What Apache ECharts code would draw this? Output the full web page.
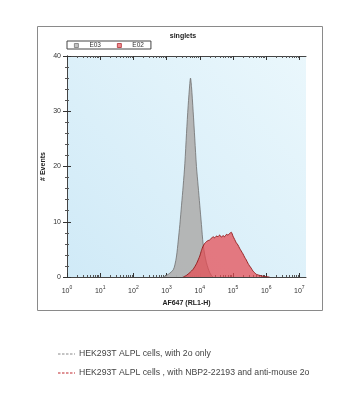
<!DOCTYPE html>
<html>
<head>
<meta charset="utf-8">
<script src="https://cdn.jsdelivr.net/npm/echarts@6/dist/echarts.min.js"></script>
<style>
  html, body { margin: 0; padding: 0; background: #ffffff; }
  #chart { width: 357px; height: 400px; }
</style>
</head>
<body>
<div id="chart"></div>
<script>
// ---- data (x = log10 of AF647 intensity, y = # events) ----
const e03Log   = [2.9, 3.0, 3.1, 3.2, 3.25, 3.3, 3.35, 3.4, 3.45, 3.5, 3.55, 3.6, 3.65, 3.7, 3.72, 3.75, 3.8, 3.85, 3.9, 3.95, 4.0, 4.05, 4.1, 4.15, 4.2, 4.25, 4.3, 4.35, 4.4];
const e03Count = [0, 0.3, 0.7, 1.3, 2.2, 3.8, 6.5, 9.5, 13, 16.5, 20.5, 26, 31, 35, 36, 34.5, 30, 25, 20, 16.5, 13, 9.5, 6, 4, 2.6, 1.6, 0.8, 0.3, 0];

const e02Log   = [3.5, 3.6, 3.7, 3.8, 3.9, 4.0, 4.05, 4.1, 4.15, 4.2, 4.25, 4.3, 4.35, 4.4, 4.45, 4.5, 4.55, 4.6, 4.65, 4.7, 4.75, 4.8, 4.85, 4.9, 4.95, 5.0, 5.05, 5.1, 5.15, 5.2, 5.25, 5.3, 5.35, 5.4, 5.45, 5.5, 5.55, 5.6, 5.65, 5.7, 5.8, 5.9, 6.0, 6.1];
const e02Count = [0, 0.3, 0.8, 1.4, 2.4, 3.8, 4.8, 5.6, 6.1, 6.4, 6.6, 6.7, 7.0, 7.3, 7.1, 7.4, 7.3, 7.6, 7.2, 7.5, 7.3, 7.7, 7.6, 7.9, 8.1, 7.4, 6.8, 6.2, 5.8, 5.2, 4.7, 4.2, 3.6, 3.1, 2.5, 2.0, 1.6, 1.1, 0.8, 0.5, 0.3, 0.15, 0.05, 0];

const xDecades = [0, 1, 2, 3, 4, 5, 6, 7];
const yTicks   = [0, 10, 20, 30, 40];
const seriesNames = ['E03', 'E02'];
const chartTitle = 'singlets';
const xTitle = 'AF647 (RL1-H)';
const yTitle = '# Events';
const noteLines = ['HEK293T ALPL cells, with 2o only', 'HEK293T ALPL cells , with NBP2-22193 and anti-mouse 2o'];

// minor log ticks (log10 of 2..9 within each decade)
const minorTicks = [];
for (let d = 0; d < 8; d++) {
  for (let k = 2; k <= 9; k++) {
    const v = d + Math.log10(k);
    if (v <= 7.2) minorTicks.push(v);
  }
}

const zip = (xs, ys) => xs.map((x, i) => [x, ys[i]]);

const chart = echarts.init(document.getElementById('chart'), null, { renderer: 'canvas' });

const FONT = 'Liberation Sans';
const axisLineStyle = { color: '#444', width: 1 };

const option = {
  animation: false,
  backgroundColor: '#ffffff',
  textStyle: { fontFamily: FONT },
  title: {
    text: chartTitle,
    left: 178, top: 28, textAlign: 'center',
    textStyle: { fontSize: 7, fontWeight: 'bold', color: '#222', fontFamily: FONT }
  },
  legend: {
    data: [
      { name: seriesNames[0], itemStyle: { color: '#c4c4c4', borderColor: '#777', borderWidth: 0.8 } },
      { name: seriesNames[1], itemStyle: { color: '#f08a8e', borderColor: '#b03035', borderWidth: 0.8 } }
    ],
    left: 67, top: 41,
    orient: 'horizontal',
    padding: [1, 7, 0, 7],
    itemGap: 16,
    itemWidth: 4, itemHeight: 4,
    icon: 'rect',
    borderColor: '#444', borderWidth: 1,
    backgroundColor: '#fff',
    textStyle: { fontSize: 6.5, color: '#333', padding: [0, 0, 0, 6], lineHeight: 7, fontFamily: FONT }
  },
  grid: {
    left: 67, right: 51, top: 56, bottom: 123,
    show: true,
    borderWidth: 0,
    backgroundColor: new echarts.graphic.LinearGradient(0, 1, 1, 0, [
      { offset: 0, color: '#d0eaf7' },
      { offset: 1, color: '#eaf7fc' }
    ])
  },
  xAxis: [
    {
      type: 'value', min: 0, max: 7.2, interval: 1, position: 'bottom',
      name: xTitle, nameLocation: 'middle', nameGap: 20,
      nameTextStyle: { fontSize: 7, fontWeight: 'bold', color: '#222', fontFamily: FONT },
      axisLine: { show: true, lineStyle: axisLineStyle },
      axisTick: { show: true, inside: true, length: 4, customValues: xDecades, lineStyle: { color: '#333' } },
      splitLine: { show: false },
      axisLabel: {
        customValues: xDecades,
        margin: 8,
        color: '#333',
        formatter: v => '{b|10}{s|' + v + '}',
        rich: {
          b: { fontSize: 7, color: '#333', fontFamily: FONT, verticalAlign: 'bottom', lineHeight: 10 },
          s: { fontSize: 5, color: '#333', fontFamily: FONT, verticalAlign: 'top', lineHeight: 10, padding: [0, 0, 4, 0] }
        }
      }
    },
    {
      type: 'value', min: 0, max: 7.2, position: 'bottom',
      axisLine: { show: false },
      axisTick: { show: true, inside: true, length: 2, customValues: minorTicks, lineStyle: { color: '#555' } },
      axisLabel: { show: false }, splitLine: { show: false }
    },
    {
      type: 'value', min: 0, max: 7.2, position: 'top',
      axisLine: { show: true, lineStyle: axisLineStyle },
      axisTick: { show: true, inside: true, length: 4, customValues: xDecades, lineStyle: { color: '#333' } },
      axisLabel: { show: false }, splitLine: { show: false }
    },
    {
      type: 'value', min: 0, max: 7.2, position: 'top',
      axisLine: { show: false },
      axisTick: { show: true, inside: true, length: 2, customValues: minorTicks, lineStyle: { color: '#555' } },
      axisLabel: { show: false }, splitLine: { show: false }
    }
  ],
  yAxis: [
    {
      type: 'value', min: 0, max: 40, interval: 10, position: 'left',
      name: yTitle, nameLocation: 'middle', nameGap: 20, nameRotate: 90, nameMoveOverlap: false,
      nameTextStyle: { fontSize: 7, fontWeight: 'bold', color: '#222', fontFamily: FONT },
      axisLine: { show: true, lineStyle: axisLineStyle },
      axisTick: { show: true, inside: true, length: 4, lineStyle: { color: '#333' } },
      minorTick: { show: true, splitNumber: 5, length: 2, lineStyle: { color: '#555' } },
      splitLine: { show: false },
      axisLabel: { fontSize: 7, color: '#333', margin: 6, customValues: yTicks, fontFamily: FONT }
    },
    {
      type: 'value', min: 0, max: 40, interval: 10, position: 'right',
      axisLine: { show: true, lineStyle: axisLineStyle },
      axisTick: { show: true, inside: true, length: 4, lineStyle: { color: '#333' } },
      minorTick: { show: true, splitNumber: 5, length: 2, lineStyle: { color: '#555' } },
      splitLine: { show: false },
      axisLabel: { show: false }
    }
  ],
  series: [
    {
      name: seriesNames[0], type: 'line', xAxisIndex: 0, yAxisIndex: 0,
      data: zip(e03Log, e03Count),
      showSymbol: false, smooth: 0.3,
      itemStyle: { color: '#b0b0b0' },
      lineStyle: { color: '#6f6f6f', width: 0.8 },
      areaStyle: { color: '#b2b2b2', opacity: 0.95 },
      z: 2
    },
    {
      name: seriesNames[1], type: 'line', xAxisIndex: 0, yAxisIndex: 0,
      data: zip(e02Log, e02Count),
      showSymbol: false, smooth: 0.2,
      itemStyle: { color: '#e6585d' },
      lineStyle: { color: '#8e1a1a', width: 0.9 },
      areaStyle: { color: '#e64a50', opacity: 0.72 },
      z: 3
    }
  ],
  graphic: [
    {
      type: 'rect', left: 35, top: 24, z: -10, silent: true,
      shape: { width: 285, height: 284 },
      style: { fill: 'none', stroke: '#8a8a8a', lineWidth: 1 }
    },
    {
      type: 'line', silent: true,
      shape: { x1: 58, y1: 354, x2: 75, y2: 354 },
      style: { stroke: '#888', lineWidth: 1, lineDash: [2.5, 1.5] }
    },
    {
      type: 'text', left: 79, top: 349, silent: true,
      style: { text: noteLines[0], fontSize: 8.7, fill: '#444', fontFamily: FONT }
    },
    {
      type: 'line', silent: true,
      shape: { x1: 58, y1: 373, x2: 75, y2: 373 },
      style: { stroke: '#c0262c', lineWidth: 1.2, lineDash: [2.5, 1.5] }
    },
    {
      type: 'text', left: 79, top: 368, silent: true,
      style: { text: noteLines[1], fontSize: 8.7, fill: '#444', fontFamily: FONT }
    }
  ]
};

chart.setOption(option);
</script>
</body>
</html>
